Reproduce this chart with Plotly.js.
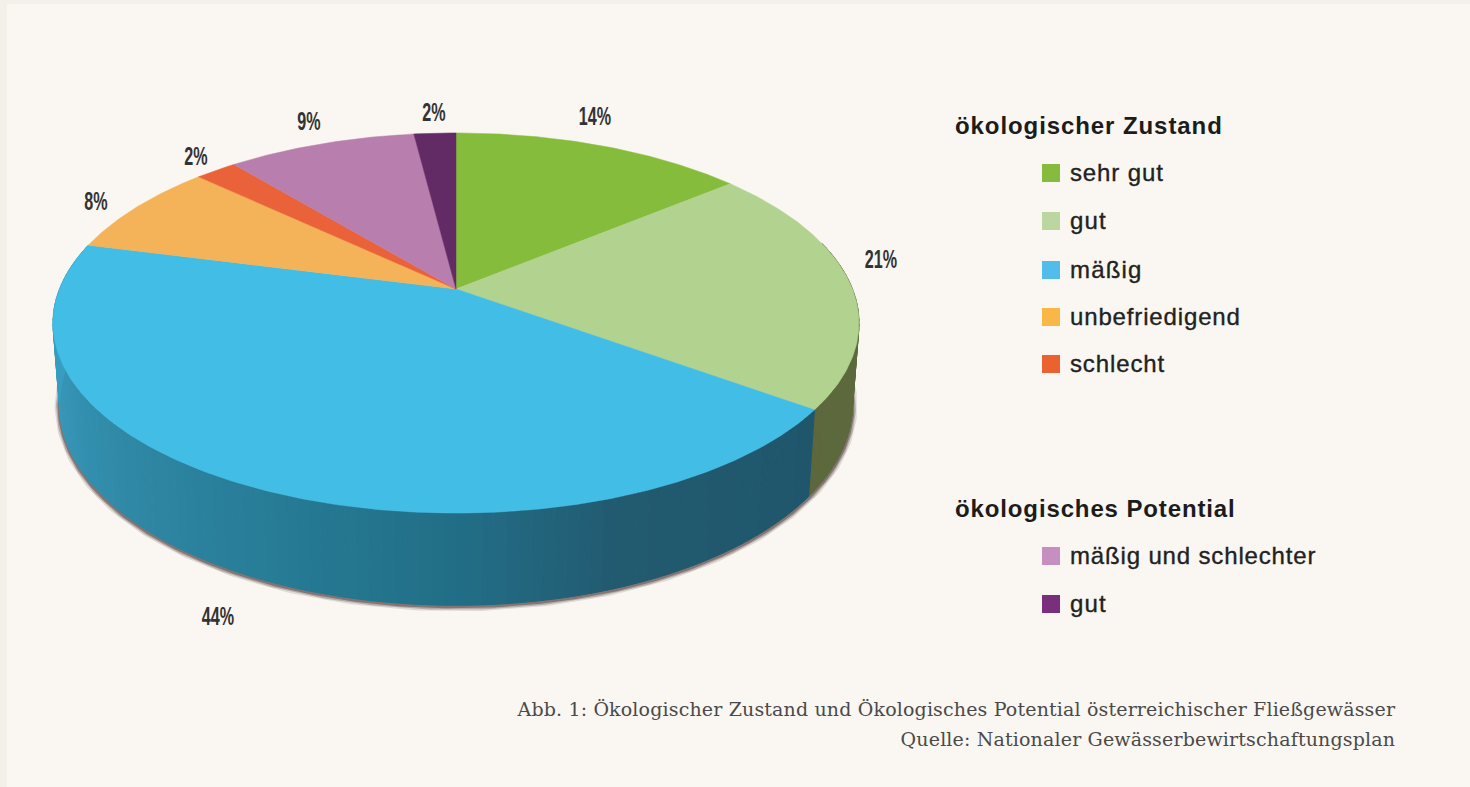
<!DOCTYPE html>
<html lang="de">
<head>
<meta charset="utf-8">
<title>Ökologischer Zustand</title>
<script src="https://cdn.plot.ly/plotly-3.0.1.min.js"></script>
<style>html,body{margin:0;padding:0;background:#f2f0e8;overflow:hidden}</style>
</head>
<body>
<div id="chart" style="width:1470px;height:787px"></div>
<script>
// Anteile der Fließgewässer in Prozent, im Uhrzeigersinn ab 12 Uhr
const sliceNames = ['sehr gut', 'gut', 'mäßig', 'unbefriedigend', 'schlecht', 'mäßig und schlechter', 'gut'];
const sliceValues = [14, 21, 44, 8, 2, 9, 2];
const sliceColors = ['#86bc3c', '#b1d38f', '#42bde5', '#f4b259', '#e9623a', '#b87eae', '#622b66'];

// Beschriftung der Segmente (Position im Pixelraster der Achsen)
const percentText = ['14%', '21%', '44%', '8%', '2%', '9%', '2%'];
const percentX = [595, 881, 218, 96, 196, 309, 434];
const percentY = [118, 261, 618, 203, 158, 123, 114];

// Legende
const headingText = ['ökologischer Zustand', 'ökologisches Potential'];
const headingX = [955, 955];
const headingY = [128, 511];
const legendText = ['sehr gut', 'gut', 'mäßig', 'unbefriedigend', 'schlecht', 'mäßig und schlechter', 'gut'];
const legendColors = ['#87bb3d', '#bcd69f', '#52bde9', '#f9b845', '#e9622f', '#c78fc1', '#7a2f7c'];
const legendY = [173, 221, 270, 317, 364, 556, 604];
const legendTextY = [175, 223, 272, 319, 366, 558, 606];

// Bildunterschrift
const captionText = ['Abb. 1: Ökologischer Zustand und Ökologisches Potential österreichischer Fließgewässer',
                     'Quelle: Nationaler Gewässerbewirtschaftungsplan'];
const captionY = [711, 741];

// Farbverlauf der Mantelfläche je Segment: Winkel in Grad und Farbe
const rimAngles = [[70, 130], [126, 160, 180, 200, 230, 262, 290]];
const rimColors = [
  [[94, 108, 62], [92, 104, 60]],
  [[31, 86, 108], [34, 90, 112], [34, 110, 135], [38, 122, 148], [48, 138, 168], [58, 156, 192], [50, 165, 205]]
];

// Perspektivische Projektion der Kreisscheibe
const topDisc = {cx: 456, cy: 289, a: 396.5, b: 184, k: 0.179};
const lowDisc = {cx: 456, cy: 369, a: 390, b: 194, k: 0.179};
function project(d, deg) {
  const t = deg * Math.PI / 180, u = Math.sin(t), v = Math.cos(t), w = 1 + d.k * v;
  return [d.cx + d.a * u / w, d.cy - d.b * v / w];
}
function arc(d, from, to) {
  const pts = [], n = Math.max(2, Math.ceil(Math.abs(to - from) / 0.5));
  for (let i = 0; i <= n; i++) pts.push(project(d, from + (to - from) * i / n));
  return pts;
}
function rimColor(stops, cols, deg) {
  for (let i = 0; i < stops.length - 1; i++) {
    if (deg <= stops[i + 1]) {
      const f = Math.max(0, (deg - stops[i]) / (stops[i + 1] - stops[i]));
      const c = cols[i].map((v, j) => Math.round(v + (cols[i + 1][j] - v) * f));
      return 'rgb(' + c.join(',') + ')';
    }
  }
  return 'rgb(' + cols[cols.length - 1].join(',') + ')';
}

const traces = [];
const skip = {hoverinfo: 'skip', showlegend: false};

// Weicher Schlagschatten unter dem Mantel
const shadowArc = arc(lowDisc, 90, 285);
[[10, 0.14], [7, 0.28], [4, 0.45]].forEach(([w, alpha]) => {
  traces.push(Object.assign({
    type: 'scatter', mode: 'lines',
    x: shadowArc.map(p => p[0]), y: shadowArc.map(p => p[1] + 1),
    line: {color: 'rgba(70,50,50,' + alpha + ')', width: w}
  }, skip));
});

// Mantelfläche in schmalen Streifen, Segmentgrenzen aus den Werten
const total = sliceValues.reduce((s, v) => s + v, 0);
const boundary = [0];
sliceValues.forEach(v => boundary.push(boundary[boundary.length - 1] + v / total * 360));
const STEP = 1.5;
[1, 2].forEach((slice, r) => {
  const start = Math.max(boundary[slice], 75), end = Math.min(boundary[slice + 1], 285);
  for (let d = start; d < end; d += STEP) {
    const e = Math.min(d + STEP, end);
    const upper = arc(topDisc, d, e), lower = arc(lowDisc, e, d);
    const poly = upper.concat(lower);
    poly.push(poly[0]);
    const col = rimColor(rimAngles[r], rimColors[r], (d + e) / 2);
    traces.push(Object.assign({
      type: 'scatter', mode: 'lines', fill: 'toself', fillcolor: col,
      x: poly.map(p => p[0]), y: poly.map(p => p[1]),
      line: {color: col, width: 1}
    }, skip));
  }
});

// Deckfläche
sliceValues.forEach((v, i) => {
  const pts = [[topDisc.cx, topDisc.cy]].concat(arc(topDisc, boundary[i], boundary[i + 1]));
  pts.push(pts[0]);
  traces.push({
    type: 'scatter', mode: 'lines', fill: 'toself', fillcolor: sliceColors[i],
    x: pts.map(p => p[0]), y: pts.map(p => p[1]),
    line: {color: sliceColors[i], width: 0.5},
    name: sliceNames[i], text: v + '%', hoverinfo: 'name+text', showlegend: false
  });
});

// Prozentangaben
traces.push(Object.assign({
  type: 'scatter', mode: 'text', x: percentX, y: percentY, text: percentText,
  textposition: 'middle center',
  textfont: {family: '"Liberation Sans", Arial, sans-serif', size: 26, weight: 700, color: '#333333'}
}, skip));

// Legendenüberschriften
traces.push(Object.assign({
  type: 'scatter', mode: 'text', x: headingX, y: headingY, text: headingText,
  textposition: 'middle right',
  textfont: {family: '"Liberation Sans", Arial, sans-serif', size: 24, weight: 700, color: '#1c1c1c'}
}, skip));

// Legendeneinträge: Farbfeld und Text
traces.push(Object.assign({
  type: 'scatter', mode: 'markers', x: legendY.map(() => 1051), y: legendY,
  marker: {symbol: 'square', size: 18, color: legendColors, line: {width: 0}}
}, skip));
traces.push(Object.assign({
  type: 'scatter', mode: 'text', x: legendY.map(() => 1070), y: legendTextY, text: legendText,
  textposition: 'middle right',
  textfont: {family: '"Liberation Sans", Arial, sans-serif', size: 24, color: '#222222'}
}, skip));

// Bildunterschrift, rechtsbündig
traces.push(Object.assign({
  type: 'scatter', mode: 'text', x: captionY.map(() => 1395), y: captionY, text: captionText,
  textposition: 'middle left',
  textfont: {family: '"DejaVu Serif", serif', size: 19, color: '#4a4a4a'}
}, skip));

// Laufweite der Texte: Prozentzahlen schmal, übrige Schrift leicht gesperrt
function setTextWidth(text, factor, adjust) {
  text.setAttribute('textLength', (text.getComputedTextLength() * factor).toFixed(1));
  text.setAttribute('lengthAdjust', adjust);
}
function fitTexts() {
  document.querySelectorAll('#chart .textpoint text').forEach(t => {
    if (t.hasAttribute('textLength')) return;
    const s = t.textContent;
    if (percentText.includes(s)) {
      setTextWidth(t, 0.62, 'spacingAndGlyphs');
    } else if (headingText.includes(s)) {
      setTextWidth(t, 1.07, 'spacing');
    } else if (legendText.includes(s)) {
      setTextWidth(t, 1.07, 'spacing');
      t.style.stroke = '#222222';
      t.style.strokeWidth = '0.35px';
    } else if (captionText.includes(s)) {
      setTextWidth(t, 1.015, 'spacing');
    }
  });
}

const hiddenAxis = {visible: false, fixedrange: true, showgrid: false, zeroline: false};
Plotly.newPlot('chart', traces, {
  width: 1470, height: 787,
  margin: {l: 7, r: 0, t: 4, b: 0},
  paper_bgcolor: '#f2f0e8',
  plot_bgcolor: '#faf6f1',
  showlegend: false,
  xaxis: Object.assign({range: [7, 1470]}, hiddenAxis),
  yaxis: Object.assign({range: [787, 4]}, hiddenAxis)
}, {displayModeBar: false}).then(fitTexts);
</script>
</body>
</html>
